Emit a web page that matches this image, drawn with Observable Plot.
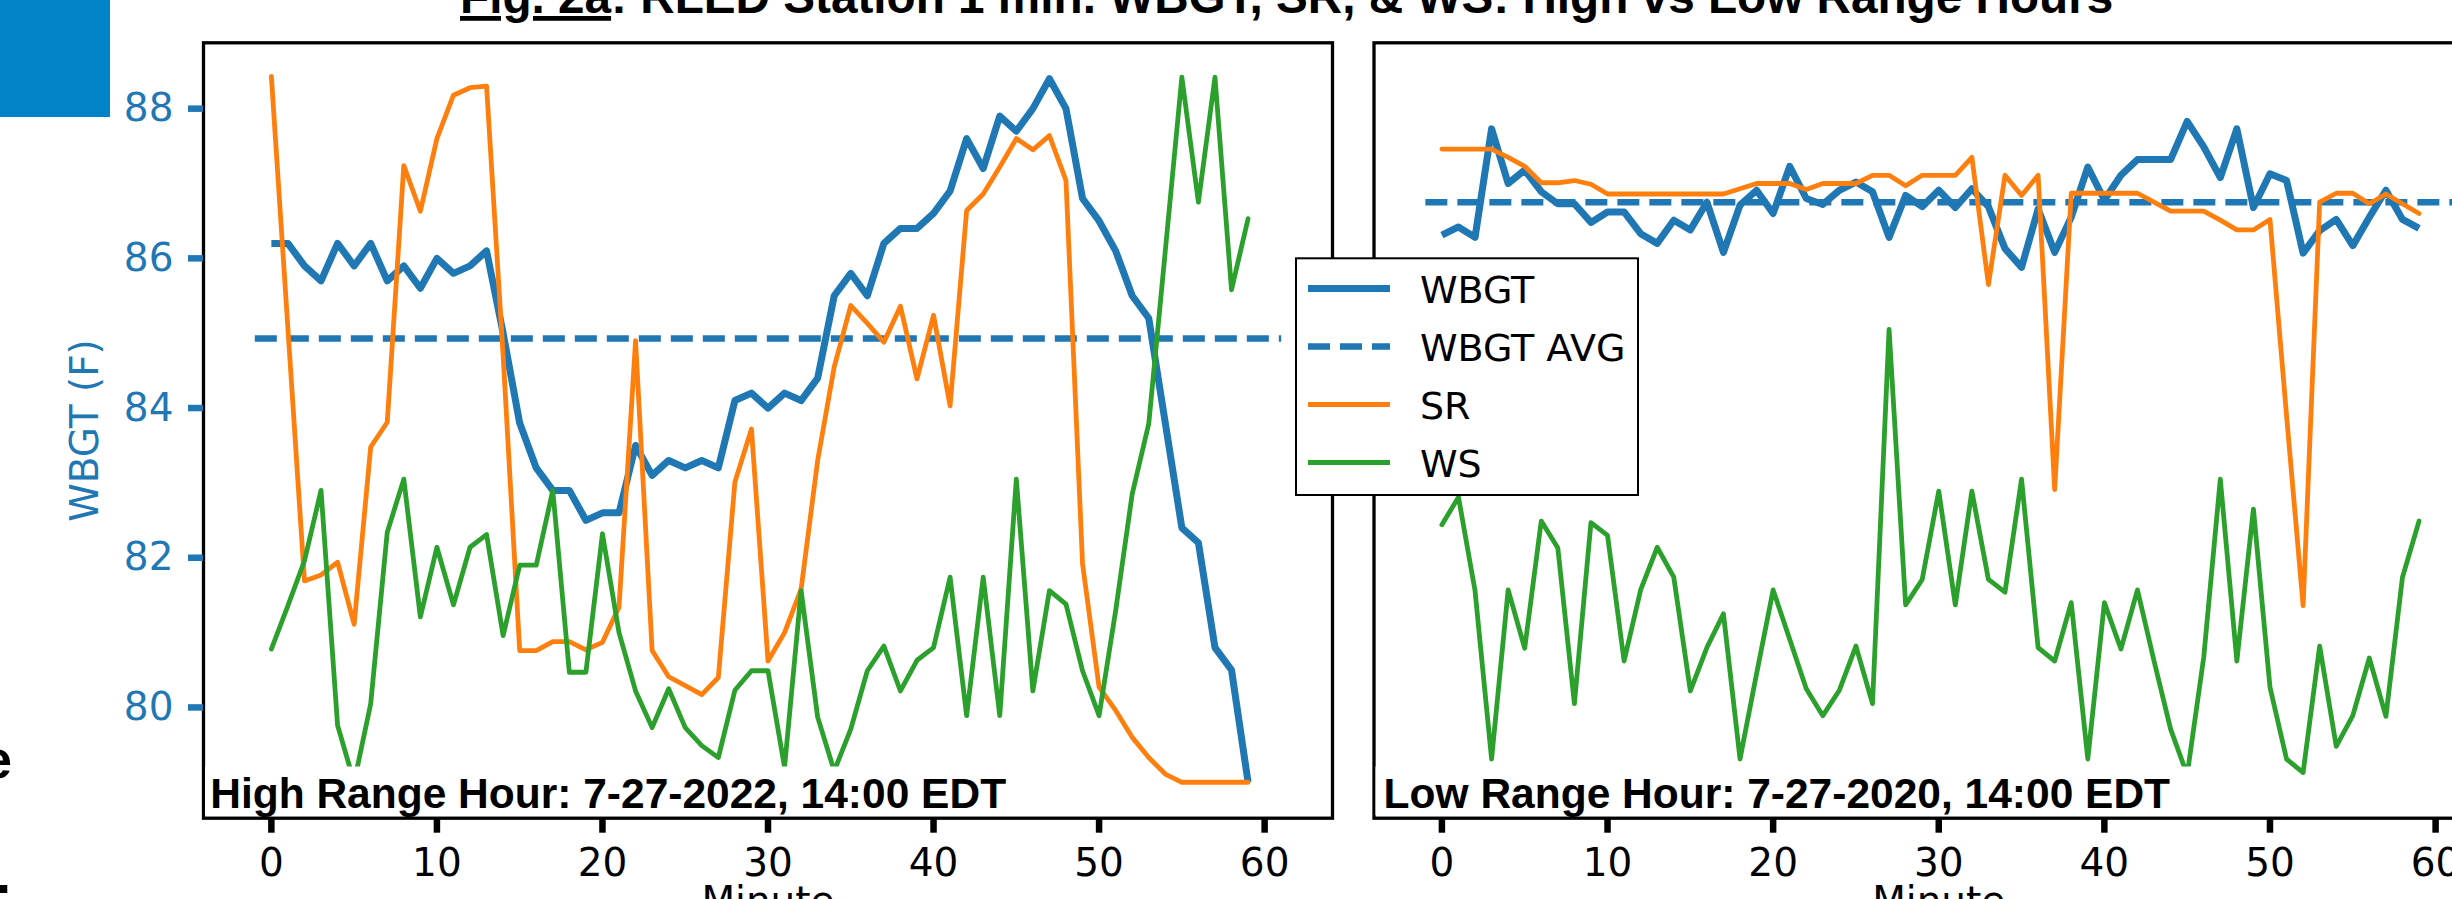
<!DOCTYPE html>
<html>
<head>
<meta charset="utf-8">
<script src="https://cdn.jsdelivr.net/npm/d3@7"></script>
<script src="https://cdn.jsdelivr.net/npm/@observablehq/plot@0.6"></script>
<style>
  html, body { margin: 0; padding: 0; background: #fff; overflow: hidden; }
  #wrap { position: relative; width: 2452px; height: 899px; overflow: hidden; background: #fff; }
  #wrap > svg { position: absolute; top: 0; margin: 0; }
</style>
</head>
<body>
<div id="wrap"></div>
<script>
// ---------------- DATA ----------------
const minutes = [0,1,2,3,4,5,6,7,8,9,10,11,12,13,14,15,16,17,18,19,20,21,22,23,24,25,26,27,28,29,
  30,31,32,33,34,35,36,37,38,39,40,41,42,43,44,45,46,47,48,49,50,51,52,53,54,55,56,57,58,59];
const xTicks = [0, 10, 20, 30, 40, 50, 60];
const yTicks = [80, 82, 84, 86, 88];
const seriesNames = ["WBGT", "WBGT AVG", "SR", "WS"];
const seriesColors = ["#1f77b4", "#1f77b4", "#ff7f0e", "#2ca02c"];
const panelTitles = ["High Range Hour: 7-27-2022, 14:00 EDT", "Low Range Hour: 7-27-2020, 14:00 EDT"];
const figTitleLead = "Fig. 2a";
const figTitleRest = ": RLED Station 1 min. WBGT, SR, & WS: High vs Low Range Hours";
const xLabel = "Minute";
const yLabel = "WBGT (F)";
const avgSpan = [-1, 61]; // minutes covered by the average line

// High range hour (left panel). WBGT in deg F.
const wbgtHigh = [86.2, 86.2, 85.9, 85.7, 86.2, 85.9, 86.2, 85.7, 85.9, 85.6,
  86.0, 85.8, 85.9, 86.1, 85.0, 83.8, 83.2, 82.9, 82.9, 82.5,
  82.6, 82.6, 83.5, 83.1, 83.3, 83.2, 83.3, 83.2, 84.1, 84.2,
  84.0, 84.2, 84.1, 84.4, 85.5, 85.8, 85.5, 86.2, 86.4, 86.4,
  86.6, 86.9, 87.6, 87.2, 87.9, 87.7, 88.0, 88.4, 88.0, 86.8,
  86.5, 86.1, 85.5, 85.2, 83.8, 82.4, 82.2, 80.8, 80.5, 79.0];
const wbgtAvgHigh = 84.93;
// SR and WS sit on hidden twin axes; read here in left-axis (WBGT) units.
const srHigh = [88.43, 85.06, 81.69, 81.77, 81.94, 81.11, 83.48, 83.81, 87.24, 86.63,
  87.6, 88.18, 88.28, 88.3, 84.7, 80.76, 80.76, 80.88, 80.88, 80.77,
  80.87, 81.34, 84.9, 80.76, 80.41, 80.29, 80.17, 80.4, 83.01, 83.72,
  80.62, 81.0, 81.58, 83.3, 84.55, 85.37, 85.13, 84.88, 85.36, 84.39,
  85.24, 84.03, 86.64, 86.86, 87.22, 87.6, 87.45, 87.64, 87.04, 81.92,
  80.27, 79.96, 79.6, 79.33, 79.11, 79.0, 79.0, 79.0, 79.0, 79.0];
const wsHigh = [80.78, 81.36, 81.96, 82.9, 79.76, 79.0, 80.05, 82.34, 83.05, 81.21,
  82.14, 81.37, 82.14, 82.31, 80.96, 81.9, 81.9, 82.9, 80.47, 80.47,
  82.32, 81.0, 80.22, 79.73, 80.25, 79.73, 79.49, 79.33, 80.23, 80.49,
  80.49, 79.2, 81.56, 79.87, 79.15, 79.71, 80.49, 80.82, 80.22, 80.63,
  80.8, 81.74, 79.89, 81.74, 79.89, 83.05, 80.22, 81.56, 81.38, 80.49,
  79.89, 81.29, 82.85, 83.79, 86.1, 88.42, 86.75, 88.42, 85.58, 86.53];

// Low range hour (right panel), same shared axes.
const wbgtLow = [86.31, 86.42, 86.28, 87.73, 87.0, 87.18, 86.89, 86.73, 86.73, 86.48,
  86.62, 86.62, 86.33, 86.2, 86.51, 86.38, 86.75, 86.08, 86.71, 86.91,
  86.6, 87.23, 86.8, 86.72, 86.91, 87.02, 86.89, 86.28, 86.84, 86.69,
  86.91, 86.68, 86.93, 86.69, 86.13, 85.88, 86.66, 86.08, 86.55, 87.22,
  86.78, 87.11, 87.32, 87.32, 87.32, 87.83, 87.49, 87.08, 87.73, 86.68,
  87.13, 87.04, 86.07, 86.37, 86.52, 86.17, 86.55, 86.91, 86.52, 86.4];
const wbgtAvgLow = 86.75;
const srLow = [87.46, 87.46, 87.46, 87.46, 87.35, 87.23, 87.01, 87.01, 87.04, 86.99,
  86.86, 86.86, 86.86, 86.86, 86.86, 86.86, 86.86, 86.86, 86.93, 87.0,
  87.0, 87.0, 86.92, 87.0, 87.0, 87.0, 87.11, 87.11, 86.97, 87.11,
  87.11, 87.11, 87.35, 85.65, 87.11, 86.84, 87.11, 82.91, 86.87, 86.87,
  86.87, 86.87, 86.87, 86.75, 86.63, 86.63, 86.63, 86.51, 86.38, 86.38,
  86.52, 83.9, 81.36, 86.75, 86.87, 86.87, 86.73, 86.86, 86.73, 86.6];
const wsLow = [82.44, 82.81, 81.56, 79.31, 81.57, 80.79, 82.49, 82.13, 80.05, 82.47,
  82.3, 80.62, 81.57, 82.14, 81.74, 80.22, 80.8, 81.25, 79.31, 80.45,
  81.57, 80.91, 80.25, 79.89, 80.23, 80.82, 80.05, 85.05, 81.37, 81.71,
  82.89, 81.37, 82.89, 81.71, 81.54, 83.05, 80.8, 80.62, 81.4, 79.31,
  81.4, 80.78, 81.57, 80.62, 79.71, 79.1, 80.67, 83.05, 80.62, 82.65,
  80.27, 79.31, 79.13, 80.82, 79.48, 79.89, 80.66, 79.88, 81.74, 82.49];

// ---------------- CHART ----------------
const rows = vals => vals.map((v, i) => ({minute: minutes[i], value: v}));
const FONT = "'DejaVu Sans', sans-serif";

function panel({wbgt, avg, sr, ws, width, marginLeft, marginRight, showY}) {
  const marks = [
    Plot.line(rows(wbgt), {x: "minute", y: "value", stroke: seriesColors[0], strokeWidth: 7, strokeLinejoin: "round", strokeLinecap: "butt"}),
    Plot.line(avgSpan.map(m => ({minute: m, value: avg})), {x: "minute", y: "value", stroke: seriesColors[1], strokeWidth: 6.5, strokeDasharray: "22,10", strokeLinecap: "butt"}),
    Plot.line(rows(sr), {x: "minute", y: "value", stroke: seriesColors[2], strokeWidth: 4.8, strokeLinejoin: "round"}),
    Plot.line(rows(ws), {x: "minute", y: "value", stroke: seriesColors[3], strokeWidth: 4.8, strokeLinejoin: "round"}),
    Plot.frame({stroke: "black", strokeWidth: 3.3}),
    Plot.axisX({ticks: xTicks, tickSize: 15, tickPadding: 15, strokeWidth: 6.5, fontSize: 39, label: null, tickFormat: d => String(d), color: "black"}),
    Plot.text([xLabel], {frameAnchor: "bottom", lineAnchor: "middle", textAnchor: "middle", dy: 83, fontSize: 39, text: d => d, fill: "black"})
  ];
  if (showY) {
    marks.push(
      Plot.axisY({ticks: yTicks, tickSize: 15, tickPadding: 15, strokeWidth: 6.5, fontSize: 39, label: null, tickFormat: d => String(d), color: seriesColors[0]}),
      Plot.text([yLabel], {frameAnchor: "left", textAnchor: "middle", lineAnchor: "middle", rotate: -90, dx: -118, fontSize: 39, text: d => d, fill: seriesColors[0]})
    );
  }
  return Plot.plot({
    width, height: 899,
    marginLeft, marginRight, marginTop: 42.3, marginBottom: 81.3,
    x: {domain: [-4.1, 64.1], axis: null},
    y: {domain: [78.52, 88.88], axis: null},
    style: {fontFamily: FONT, fontSize: "39px", background: "transparent", overflow: "visible", maxWidth: "none"},
    marks
  });
}

const wrap = document.getElementById("wrap");
const left = panel({wbgt: wbgtHigh, avg: wbgtAvgHigh, sr: srHigh, ws: wsHigh, width: 1340, marginLeft: 203, marginRight: 8, showY: true});
left.style.left = "0px";
wrap.appendChild(left);
const right = panel({wbgt: wbgtLow, avg: wbgtAvgLow, sr: srLow, ws: wsLow, width: 1173, marginLeft: 33.5, marginRight: 10, showY: false});
right.style.left = "1340px";
wrap.appendChild(right);

// make sure y-axis colours are blue
d3.select(left).selectAll('[aria-label="y-axis tick"]').attr("stroke", seriesColors[0]);
d3.select(left).selectAll('[aria-label="y-axis tick label"]').attr("fill", seriesColors[0]);

// ---------------- OVERLAY: slide title, annotations, legend ----------------
const ov = d3.create("svg")
  .attr("width", 2452).attr("height", 899)
  .style("position", "absolute").style("left", "0px").style("top", "0px")
  .style("pointer-events", "none")
  .attr("font-family", "'Liberation Sans', Arial, sans-serif");

ov.append("rect").attr("x", 0).attr("y", 0).attr("width", 110).attr("height", 117).attr("fill", "#0283c8");

const title = ov.append("text").attr("x", 460).attr("y", 13).attr("font-size", 47.7).attr("font-weight", "bold").attr("fill", "black");
title.append("tspan").attr("text-decoration", "underline").style("text-decoration", "underline").text(figTitleLead);
title.append("tspan").text(figTitleRest);

// fragments of neighbouring slide text at the left edge
ov.append("text").attr("x", -18).attr("y", 778).attr("font-size", 54).attr("font-weight", "bold").text("e");
ov.append("text").attr("x", -4).attr("y", 893).attr("font-size", 54).attr("font-weight", "bold").text(".");

// panel annotations with white boxes
const annos = [
  {box: [205, 1037], tx: 210.2, text: panelTitles[0]},
  {box: [1375.5, 2200], tx: 1383.6, text: panelTitles[1]}
];
annos.forEach(a => {
  ov.append("rect").attr("x", a.box[0]).attr("y", 766.5).attr("width", a.box[1] - a.box[0]).attr("height", 48.5).attr("fill", "white");
  ov.append("text").attr("x", a.tx).attr("y", 808.3).attr("font-size", 42.5).attr("font-weight", "bold").attr("fill", "black").text(a.text);
});

// legend
const lg = ov.append("g");
lg.append("rect").attr("x", 1296).attr("y", 258.3).attr("width", 342).attr("height", 236.7)
  .attr("fill", "white").attr("stroke", "black").attr("stroke-width", 2);
const handleStyle = [
  {w: 7, dash: null}, {w: 6.5, dash: "22,10"}, {w: 4.8, dash: null}, {w: 4.8, dash: null}
];
seriesNames.forEach((name, i) => {
  const cy = 288.5 + i * 58;
  lg.append("line").attr("x1", 1308).attr("x2", 1390).attr("y1", cy).attr("y2", cy)
    .attr("stroke", seriesColors[i]).attr("stroke-width", handleStyle[i].w)
    .attr("stroke-dasharray", handleStyle[i].dash);
  lg.append("text").attr("x", 1420).attr("y", cy + 14).attr("font-family", FONT).attr("font-size", 38).attr("fill", "black").text(name);
});

wrap.appendChild(ov.node());
</script>
</body>
</html>
